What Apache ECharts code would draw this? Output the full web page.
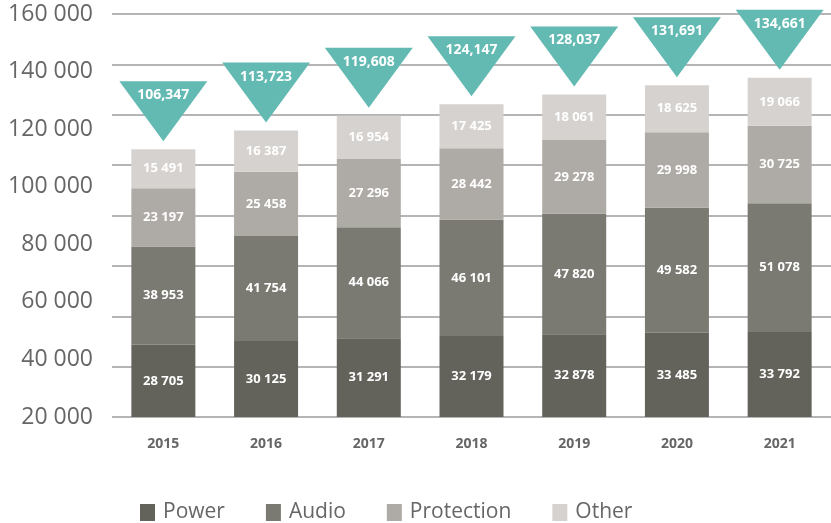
<!DOCTYPE html>
<html>
<head>
<meta charset="utf-8">
<script src="https://cdn.jsdelivr.net/npm/echarts@6/dist/echarts.min.js"></script>
<style>
  html, body { margin: 0; padding: 0; background: #fff; }
  #chart { width: 831px; height: 523px; }
</style>
</head>
<body>
<div id="chart"></div>
<script>
// data
const years = ['2015', '2016', '2017', '2018', '2019', '2020', '2021']
const power = [28705, 30125, 31291, 32179, 32878, 33485, 33792]
const audio = [38953, 41754, 44066, 46101, 47820, 49582, 51078]
const protection = [23197, 25458, 27296, 28442, 29278, 29998, 30725]
const other = [15491, 16387, 16954, 17425, 18061, 18625, 19066]
const totals = [106347, 113723, 119608, 124147, 128037, 131691, 134661]
const tickLabels = ['20 000', '40 000', '60 000', '80 000', '100 000', '120 000', '140 000', '160 000']

const font = '"Open Sans", "Noto Sans", sans-serif'
const colors = ['#63635c', '#7a7a72', '#aeaaa5', '#d6d2cf']

// 28705 -> "28 705"
const spaced = v => String(v).replace(/\B(?=(\d{3})+(?!\d))/g, ' ')
// 106347 -> "106,347"
const commas = v => String(v).replace(/\B(?=(\d{3})+(?!\d))/g, ',')

const chart = echarts.init(document.getElementById('chart'))

const barSeries = (name, data) => ({
  name: name,
  type: 'bar',
  stack: 'total',
  data: data,
  barWidth: 64,
  label: {
    show: true,
    position: 'inside',
    color: '#fff',
    fontFamily: font,
    fontWeight: 'bold',
    fontSize: 13,
    formatter: p => spaced(p.value)
  }
})

const option = {
  animation: false,
  color: colors,
  grid: { left: 112, right: -6, top: 14, bottom: 106 },
  legend: {
    data: ['Power', 'Audio', 'Protection', 'Other'],
    left: 135,
    top: 497,
    icon: 'rect',
    itemWidth: 15,
    itemHeight: 17,
    itemGap: 41,
    textStyle: { fontFamily: font, fontSize: 21, color: '#666', padding: [0, 0, 0, 3] }
  },
  xAxis: {
    type: 'category',
    data: years,
    axisLine: { show: false },
    axisTick: { show: false },
    axisLabel: { margin: 20, fontFamily: font, fontWeight: 'bold', fontSize: 14, color: '#666' }
  },
  yAxis: [
    {
      type: 'value',
      min: 0,
      max: 160000,
      interval: 20000,
      axisLabel: { show: false },
      axisLine: { show: false },
      axisTick: { show: false },
      splitLine: { lineStyle: { color: '#9c9c9c', width: 1.5 } }
    },
    {
      // the tick labels of the original are spread evenly, not on the gridlines
      type: 'value',
      min: 20000,
      max: 160000,
      interval: 20000,
      position: 'left',
      axisLine: { show: false },
      axisTick: { show: false },
      splitLine: { show: false },
      axisLabel: {
        margin: 19,
        fontFamily: font,
        fontSize: 23,
        color: '#666',
        formatter: v => tickLabels[Math.round((v - 20000) / 20000)]
      }
    }
  ],
  series: [
    barSeries('Power', power),
    barSeries('Audio', audio),
    barSeries('Protection', protection),
    barSeries('Other', other),
    {
      name: 'Total',
      type: 'scatter',
      data: totals,
      clip: false,
      z: 5,
      symbol: 'path://M0,0 L2,0 L1,1.4 Z',
      symbolSize: [88, 60],
      symbolOffset: [0, -38],
      itemStyle: { color: '#62bab2', opacity: 1 },
      label: {
        show: true,
        position: 'inside',
        offset: [0, -16],
        color: '#fff',
        fontFamily: font,
        fontWeight: 'bold',
        fontSize: 14,
        formatter: p => commas(p.value)
      }
    }
  ]
}

chart.setOption(option)
</script>
</body>
</html>
